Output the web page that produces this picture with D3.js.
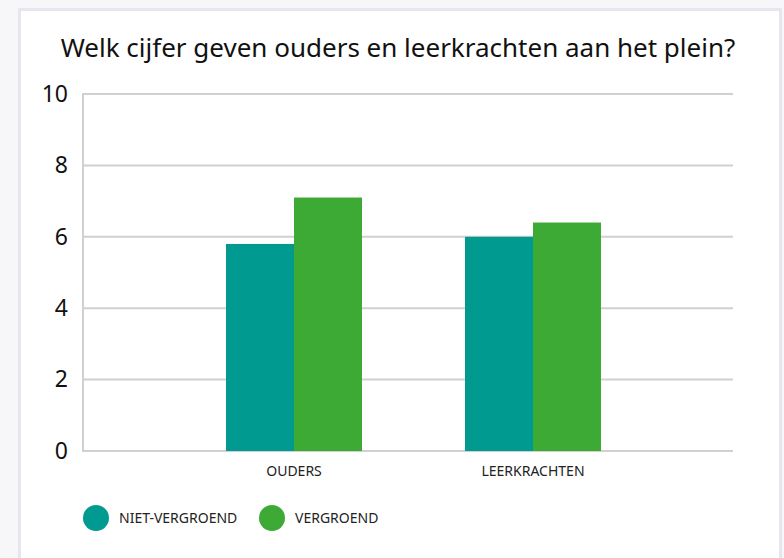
<!DOCTYPE html>
<html>
<head>
<meta charset="utf-8">
<script src="https://cdn.jsdelivr.net/npm/d3@7"></script>
<style>
  body { margin: 0; background: #f7f7f9; }
  svg { display: block; }
</style>
</head>
<body>
<div id="chart"></div>
<script>
// chart data
const categories = ["OUDERS", "LEERKRACHTEN"];
const seriesNames = ["NIET-VERGROEND", "VERGROEND"];
const nietVergroend = [5.8, 6.0];
const vergroend = [7.1, 6.4];
const yTicks = [0, 2, 4, 6, 8, 10];

const colors = ["#009a90", "#3daa35"];
const titleFont = "'Noto Sans', sans-serif";

const W = 784, H = 558;
const margin = {top: 94, right: 51, bottom: 107, left: 83},
      width = W - margin.left - margin.right,
      height = H - margin.top - margin.bottom;

const svg = d3.select("#chart")
    .append("svg")
    .attr("width", W)
    .attr("height", H);

// white panel
svg.append("rect")
    .attr("x", 19.5)
    .attr("y", 9.5)
    .attr("width", 761)
    .attr("height", 560)
    .attr("fill", "#ffffff")
    .attr("stroke", "#e6e6ee")
    .attr("stroke-width", 3);

const g = svg.append("g")
    .attr("transform", `translate(${margin.left},${margin.top})`);

const y = d3.scaleLinear()
    .domain([0, 10])
    .range([height, 0]);

const x0 = d3.scaleBand()
    .domain(categories)
    .range([91.5, 569.5])
    .paddingInner(0.431)
    .paddingOuter(0.2155);

const x1 = d3.scaleBand()
    .domain(seriesNames)
    .range([0, x0.bandwidth()]);

// gridlines
g.append("g")
    .selectAll("line")
    .data(yTicks)
    .enter()
    .append("line")
    .attr("x1", 0)
    .attr("x2", width)
    .attr("y1", d => y(d))
    .attr("y2", d => y(d))
    .attr("stroke", "#d0d0d0")
    .attr("stroke-width", 2);

// y axis line
g.append("line")
    .attr("x1", 0).attr("x2", 0)
    .attr("y1", y(10) - 1).attr("y2", y(0) + 1)
    .attr("stroke", "#d0d0d0")
    .attr("stroke-width", 2);

// y tick labels
const yAxis = g.append("g")
    .call(d3.axisLeft(y).tickValues(yTicks).tickSize(0).tickPadding(15));
yAxis.select(".domain").remove();
yAxis.selectAll("text")
    .attr("fill", "#111")
    .style("font-family", "'Liberation Sans Narrow', 'Noto Sans', sans-serif")
    .style("font-weight", "normal")
    .style("font-size", "23px");

// bars
const rows = categories.map((c, i) => ({cat: c, values: [nietVergroend[i], vergroend[i]]}));

g.append("g")
    .selectAll("g")
    .data(rows)
    .enter()
    .append("g")
    .attr("transform", d => `translate(${x0(d.cat)},0)`)
    .selectAll("rect")
    .data(d => d.values.map((v, j) => ({name: seriesNames[j], value: v, idx: j})))
    .enter()
    .append("rect")
    .attr("x", d => x1(d.name))
    .attr("y", d => y(d.value))
    .attr("width", x1.bandwidth())
    .attr("height", d => y(0) - y(d.value))
    .attr("fill", d => colors[d.idx]);

// x axis labels
const xAxis = g.append("g")
    .attr("transform", `translate(0,${height})`)
    .call(d3.axisBottom(x0).tickSize(0).tickPadding(15));
xAxis.select(".domain").remove();
xAxis.selectAll("text")
    .attr("fill", "#222")
    .style("font-family", titleFont)
    .style("font-size", "14px");

// title
svg.append("text")
    .attr("x", 398)
    .attr("y", 57)
    .attr("text-anchor", "middle")
    .attr("fill", "#111")
    .style("font-family", titleFont)
    .style("font-size", "26px")
    .text("Welk cijfer geven ouders en leerkrachten aan het plein?");

// legend
const legendX = [96, 272];
const legend = svg.append("g")
    .selectAll("g")
    .data(seriesNames)
    .enter()
    .append("g")
    .attr("transform", (d, i) => `translate(${legendX[i]},518)`);

legend.append("circle")
    .attr("r", 13)
    .attr("fill", (d, i) => colors[i]);

legend.append("text")
    .attr("x", 23)
    .attr("y", 5)
    .attr("fill", "#222")
    .style("font-family", titleFont)
    .style("font-size", "14px")
    .text(d => d);
</script>
</body>
</html>
